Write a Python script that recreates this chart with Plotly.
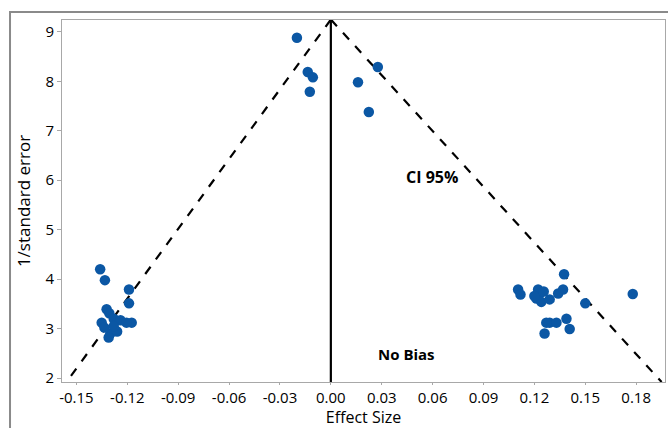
import plotly.graph_objects as go

# Effect sizes and precisions (1/standard error)
effect_top = [-0.020, -0.0136, -0.0106, -0.0124, 0.016, 0.0277, 0.0224]
prec_top = [8.88, 8.19, 8.08, 7.79, 7.98, 8.29, 7.38]

effect_left = [-0.136, -0.1332, -0.119, -0.119, -0.1322, -0.1306, -0.1351, -0.128,
               -0.124, -0.1174, -0.1205, -0.130, -0.126, -0.131, -0.1335, -0.1280]
prec_left = [4.20, 3.98, 3.79, 3.51, 3.39, 3.31, 3.12, 3.20,
             3.17, 3.12, 3.12, 2.90, 2.94, 2.82, 3.02, 3.05]

effect_right = [0.1375, 0.1104, 0.1118, 0.1222, 0.1232, 0.1212, 0.1241, 0.129, 0.134,
                0.1369, 0.150, 0.178, 0.129, 0.133, 0.1389, 0.1408, 0.126, 0.127,
                0.1200, 0.1255]
prec_right = [4.10, 3.79, 3.69, 3.79, 3.71, 3.61, 3.54, 3.59, 3.71,
              3.79, 3.51, 3.70, 3.12, 3.12, 3.20, 2.99, 2.90, 3.12,
              3.66, 3.75]

funnel_left_x = [0.0, -0.155]
funnel_left_y = [9.25, 1.96]
funnel_right_x = [0.0, 0.195]
funnel_right_y = [9.25, 1.92]
nobias_x = [0.0, 0.0]
nobias_y = [1.92, 9.25]

x_ticks = [-0.15, -0.12, -0.09, -0.06, -0.03, 0.00, 0.03, 0.06, 0.09, 0.12, 0.15, 0.18]
x_tick_labels = ["-0.15", "-0.12", "-0.09", "-0.06", "-0.03", "0.00", "0.03", "0.06",
                 "0.09", "0.12", "0.15", "0.18"]
y_ticks = [2, 3, 4, 5, 6, 7, 8, 9]

FONT = "Open Sans"
dot_color = "#0b57a4"

fig = go.Figure()

for fx, fy in [(funnel_left_x, funnel_left_y), (funnel_right_x, funnel_right_y)]:
    fig.add_trace(go.Scatter(x=fx, y=fy, mode="lines",
                             line=dict(color="black", width=2.2, dash="dash"),
                             hoverinfo="skip", showlegend=False))
fig.add_trace(go.Scatter(x=nobias_x, y=nobias_y, mode="lines",
                         line=dict(color="black", width=2.2),
                         hoverinfo="skip", showlegend=False))

all_x = effect_top + effect_left + effect_right
all_y = prec_top + prec_left + prec_right
fig.add_trace(go.Scatter(x=all_x, y=all_y, mode="markers",
                         marker=dict(color=dot_color, size=10.5, line=dict(width=0)),
                         showlegend=False))

fig.add_annotation(x=0.0595, y=6.07, text="<b>CI 95%</b>", showarrow=False,
                   font=dict(family=FONT, size=16, color="black"))
fig.add_annotation(x=0.0448, y=2.49, text="<b>No Bias</b>", showarrow=False,
                   font=dict(family=FONT, size=15, color="black"))

# outer frame
fig.add_shape(type="rect", xref="paper", yref="paper",
              x0=-0.0862, x1=1.2, y0=-0.3, y1=1.0221,
              line=dict(color="#8a8a8a", width=2), layer="below")

fig.update_layout(
    width=668, height=428,
    margin=dict(l=62, r=3, t=20, b=46),
    paper_bgcolor="white", plot_bgcolor="white",
    font=dict(family=FONT, color="black"),
    xaxis=dict(range=[-0.1585, 0.197], tickvals=x_ticks, ticktext=x_tick_labels,
               showgrid=False, zeroline=False, showline=True, linecolor="#a8a8a8",
               linewidth=1, mirror=True, ticks="outside", ticklen=2, tickcolor="#a8a8a8",
               tickfont=dict(size=15, family=FONT),
               title=dict(text="Effect Size", font=dict(size=16, family=FONT), standoff=6)),
    yaxis=dict(range=[1.92, 9.24], tickvals=y_ticks,
               showgrid=False, zeroline=False, showline=True, linecolor="#a8a8a8",
               linewidth=1, mirror=True, ticks="outside", ticklen=4, tickcolor="#a8a8a8",
               tickfont=dict(size=15, family=FONT),
               title=dict(text="1/standard error", font=dict(size=17, family=FONT), standoff=10)),
)

fig.write_html("out.html", config={"displayModeBar": False},
               post_script="document.body.style.margin='0';document.body.style.overflow='hidden';")
